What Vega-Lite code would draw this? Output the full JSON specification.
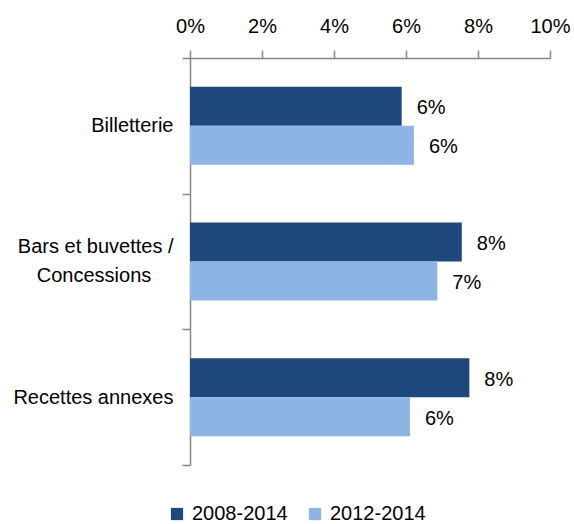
{
  "$schema": "https://vega.github.io/schema/vega-lite/v6.json",
  "width": 360,
  "height": 407,
  "autosize": {"type": "none"},
  "padding": {"left": 190, "top": 58, "right": 24, "bottom": 59},
  "background": "white",
  "config": {
    "view": {"stroke": null},
    "font": "Liberation Sans",
    "axis": {
      "labelFont": "Liberation Sans",
      "labelFontSize": 20,
      "labelColor": "#000000",
      "domainColor": "#868686",
      "tickColor": "#868686",
      "domainWidth": 1.5,
      "tickWidth": 1.5,
      "grid": false,
      "title": null
    },
    "legend": {
      "labelFont": "Liberation Sans",
      "labelFontSize": 20,
      "labelColor": "#000000"
    }
  },
  "data": {
    "values": [
      {"categorie": "Billetterie", "periode": "2008-2014", "valeur": 0.0588},
      {"categorie": "Billetterie", "periode": "2012-2014", "valeur": 0.0622},
      {"categorie": "Bars et buvettes / Concessions", "periode": "2008-2014", "valeur": 0.0755},
      {"categorie": "Bars et buvettes / Concessions", "periode": "2012-2014", "valeur": 0.0687},
      {"categorie": "Recettes annexes", "periode": "2008-2014", "valeur": 0.0776},
      {"categorie": "Recettes annexes", "periode": "2012-2014", "valeur": 0.0611}
    ]
  },
  "encoding": {
    "y": {
      "field": "categorie",
      "type": "nominal",
      "sort": null,
      "scale": {"paddingInner": 0, "paddingOuter": 0},
      "axis": {
        "tickBand": "extent",
        "tickSize": 8,
        "labelPadding": 9,
        "labelLimit": 0,
        "labelLineHeight": 29,
        "labelOffset": {"condition": {"test": "datum.value == 'Bars et buvettes / Concessions'", "value": -15}, "value": 0},
        "labelExpr": "datum.label == 'Bars et buvettes / Concessions' ? ['Bars et buvettes /', 'Concessions\u00a0\u00a0\u00a0\u00a0\u200b'] : datum.label"
      }
    },
    "yOffset": {
      "field": "periode",
      "type": "nominal",
      "scale": {"paddingInner": 0, "paddingOuter": 0.739}
    },
    "x": {
      "field": "valeur",
      "type": "quantitative",
      "scale": {"domain": [0, 0.1], "nice": false},
      "axis": {
        "orient": "top",
        "format": ".0%",
        "values": [0, 0.02, 0.04, 0.06, 0.08, 0.1],
        "labelFlush": false,
        "tickSize": 8,
        "labelPadding": 14
      }
    }
  },
  "layer": [
    {
      "mark": {"type": "bar"},
      "encoding": {
        "color": {
          "field": "periode",
          "type": "nominal",
          "scale": {"domain": ["2008-2014", "2012-2014"], "range": ["#1F497D", "#8DB4E2"]},
          "legend": {
            "title": null,
            "orient": "none",
            "direction": "horizontal",
            "legendX": -23,
            "legendY": 446,
            "symbolType": "square",
            "symbolSize": 150,
            "symbolStrokeWidth": 0,
            "labelOffset": 5,
            "columnPadding": 17
          }
        }
      }
    },
    {
      "mark": {"type": "text", "align": "left", "baseline": "middle", "dx": 15, "dy": 2, "fontSize": 20, "color": "#000000"},
      "encoding": {
        "text": {"field": "valeur", "type": "quantitative", "format": ".0%"}
      }
    }
  ]
}
